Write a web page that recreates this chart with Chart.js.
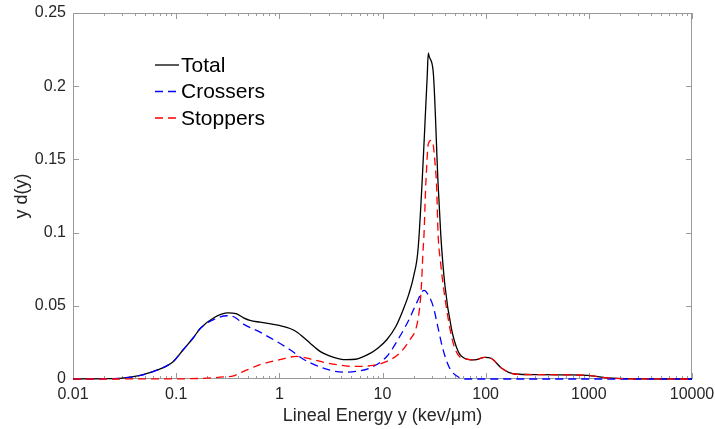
<!DOCTYPE html>
<html>
<head>
<meta charset="utf-8">
<script src="https://cdn.jsdelivr.net/npm/chart.js@4"></script>
<style>
html, body { margin: 0; padding: 0; background: #fff; }
</style>
</head>
<body>
<canvas id="chart" width="715" height="429"></canvas>
<script>
// Total
const totalX = [0.01, 0.02, 0.03, 0.045, 0.065, 0.094, 0.117, 0.146, 0.171, 0.23, 0.32, 0.38, 0.45, 0.52, 0.65, 0.8, 1.0, 1.27, 1.5, 1.71, 2.0, 2.5, 3.1, 3.8, 4.5, 5.5, 7.5, 9, 11, 13.5, 16, 18, 20, 22.2, 27.1, 27.8, 28.4, 31, 34.6, 36.7, 40.2, 46.7, 54, 63, 78, 98, 114, 142, 191, 320, 600, 970, 1500, 3000, 10000];
const totalY = [0, 0.0002, 0.0006, 0.0025, 0.006, 0.012, 0.020, 0.028, 0.0345, 0.0417, 0.0451, 0.0446, 0.0418, 0.0400, 0.0388, 0.0378, 0.0366, 0.0345, 0.0318, 0.0285, 0.0243, 0.0187, 0.0156, 0.0138, 0.0132, 0.0135, 0.0173, 0.0210, 0.0268, 0.0360, 0.0480, 0.0580, 0.0700, 0.0900, 0.2060, 0.2227, 0.2200, 0.2100, 0.1330, 0.0986, 0.0644, 0.0340, 0.0190, 0.0140, 0.0130, 0.0148, 0.0140, 0.0075, 0.0034, 0.0030, 0.0028, 0.0025, 0.0007, 0.0001, 0];

// Crossers
const crossersX = [0.01, 0.02, 0.03, 0.045, 0.065, 0.094, 0.117, 0.146, 0.171, 0.23, 0.31, 0.37, 0.45, 0.65, 1.27, 1.71, 2.3, 3.1, 4.2, 5.5, 7.55, 11, 14.7, 18.5, 21.4, 25.3, 28, 31, 34.6, 38, 43, 47, 55, 62, 10000];
const crossersY = [0, 0.0002, 0.0006, 0.0025, 0.006, 0.012, 0.020, 0.028, 0.0345, 0.0405, 0.0432, 0.0422, 0.0375, 0.0320, 0.0200, 0.0135, 0.0092, 0.0060, 0.0047, 0.0052, 0.0075, 0.0154, 0.0290, 0.0420, 0.0520, 0.0605, 0.0570, 0.0496, 0.0348, 0.0220, 0.0100, 0.0050, 0.0012, 0, 0];

// Stoppers
const stoppersX = [0.01, 0.1, 0.2, 0.29, 0.36, 0.45, 0.65, 0.94, 1.47, 2.13, 3.1, 3.9, 5.2, 8.1, 11, 14.7, 18.4, 21.4, 23, 23.9, 24.6, 25.3, 26.1, 26.8, 27.7, 29.5, 31, 32.5, 33.4, 34.6, 36.5, 38.7, 44.9, 50.2, 58, 63, 78, 98, 114, 142, 191, 320, 600, 970, 1500, 3000, 10000];
const stoppersY = [0, 0.0001, 0.0006, 0.0014, 0.0022, 0.0052, 0.0098, 0.0127, 0.0154, 0.0132, 0.0105, 0.0095, 0.0086, 0.0093, 0.0120, 0.0178, 0.0268, 0.0360, 0.0500, 0.0650, 0.0850, 0.1000, 0.1280, 0.1450, 0.1600, 0.1630, 0.1600, 0.1450, 0.1330, 0.0986, 0.0800, 0.0644, 0.0350, 0.0210, 0.0143, 0.0138, 0.0130, 0.0148, 0.0140, 0.0075, 0.0034, 0.0030, 0.0028, 0.0025, 0.0007, 0.0001, 0];

const seriesNames = ['Total', 'Crossers', 'Stoppers'];
const xTickValues = [0.01, 0.1, 1, 10, 100, 1000, 10000];
const xTickLabels = ['0.01', '0.1', '1', '10', '100', '1000', '10000'];
const yTickValues = [0, 0.05, 0.1, 0.15, 0.2, 0.25];
const yTickLabels = ['0', '0.05', '0.1', '0.15', '0.2', '0.25'];

const FONT = '"Liberation Sans", Arial, Helvetica, sans-serif';
const axisColor = '#9a9a9a';
const textColor = '#262626';
const colors = ['#000000', '#0000ff', '#ff0000'];
const dashes = [[], [8, 5], [8, 5]];

const toPoints = (xs, ys) => xs.map((x, i) => ({ x: x, y: ys[i] }));

// box round the plot with inward ticks, like matlab
const boxPlugin = {
    id: 'box',
    beforeDatasetsDraw(chart) {
        const { ctx, chartArea: a, scales: { x, y } } = chart;
        ctx.save();
        ctx.strokeStyle = axisColor;
        ctx.lineWidth = 1;
        ctx.strokeRect(a.left + 0.5, a.top + 0.5, a.right - a.left - 1, a.bottom - a.top - 1);
        ctx.beginPath();
        for (let d = -2; d <= 4; d++) {
            for (let m = 1; m <= 9; m++) {
                const v = m * Math.pow(10, d);
                if (v > 10000) break;
                const px = Math.round(x.getPixelForValue(v)) + 0.5;
                const len = m === 1 ? 6 : 3;
                ctx.moveTo(px, a.bottom);
                ctx.lineTo(px, a.bottom - len);
                ctx.moveTo(px, a.top);
                ctx.lineTo(px, a.top + len);
            }
        }
        yTickValues.forEach(v => {
            const py = Math.round(y.getPixelForValue(v)) + 0.5;
            ctx.moveTo(a.left, py);
            ctx.lineTo(a.left + 6, py);
            ctx.moveTo(a.right, py);
            ctx.lineTo(a.right - 6, py);
        });
        ctx.stroke();
        ctx.restore();
    }
};

const legendPlugin = {
    id: 'mlegend',
    afterDatasetsDraw(chart) {
        const { ctx } = chart;
        ctx.save();
        ctx.font = '21px ' + FONT;
        ctx.textBaseline = 'middle';
        seriesNames.forEach((name, i) => {
            const yy = 65 + i * 26.5;
            ctx.strokeStyle = colors[i];
            ctx.lineWidth = 1.3;
            ctx.setLineDash(dashes[i]);
            ctx.beginPath();
            ctx.moveTo(155, yy);
            ctx.lineTo(179, yy);
            ctx.stroke();
            ctx.setLineDash([]);
            ctx.fillStyle = '#000';
            ctx.fillText(name, 181, yy + 1);
        });
        ctx.restore();
    }
};

new Chart(document.getElementById('chart'), {
    type: 'line',
    data: {
        datasets: [
            { label: seriesNames[0], data: toPoints(totalX, totalY), borderColor: colors[0], borderDash: dashes[0], order: 2 },
            { label: seriesNames[1], data: toPoints(crossersX, crossersY), borderColor: colors[1], borderDash: dashes[1], order: 1 },
            { label: seriesNames[2], data: toPoints(stoppersX, stoppersY), borderColor: colors[2], borderDash: dashes[2], order: 0 }
        ]
    },
    options: {
        responsive: false,
        animation: false,
        devicePixelRatio: 1,
        layout: { padding: { top: 13, right: 23, bottom: 0, left: 0 } },
        elements: {
            point: { radius: 0 },
            line: { borderWidth: 1.3, cubicInterpolationMode: 'monotone', fill: false }
        },
        datasets: { line: { clip: false } },
        plugins: { legend: { display: false }, tooltip: { enabled: false } },
        scales: {
            x: {
                type: 'logarithmic',
                min: 0.01,
                max: 10000,
                afterBuildTicks: (scale) => { scale.ticks = xTickValues.map(v => ({ value: v })); },
                afterFit: (scale) => {
                    scale.height = 50;
                    scale.paddingLeft = 0;
                    scale.paddingRight = 0;
                },
                grid: { display: false, drawTicks: false },
                border: { display: false },
                ticks: {
                    autoSkip: false,
                    maxRotation: 0,
                    padding: 6,
                    color: textColor,
                    font: { family: FONT, size: 16 },
                    callback: (value) => { const i = xTickValues.indexOf(value); return i >= 0 ? xTickLabels[i] : ''; }
                },
                title: {
                    display: true,
                    text: 'Lineal Energy y (kev/\u03bcm)',
                    color: textColor,
                    font: { family: FONT, size: 18 },
                    padding: { top: 0, bottom: 2 }
                }
            },
            y: {
                min: 0,
                max: 0.25,
                afterBuildTicks: (scale) => { scale.ticks = yTickValues.map(v => ({ value: v })); },
                afterFit: (scale) => {
                    scale.width = 73;
                    scale.paddingTop = 0;
                    scale.paddingBottom = 0;
                },
                grid: { display: false, drawTicks: false },
                border: { display: false },
                ticks: {
                    padding: 7,
                    color: textColor,
                    font: { family: FONT, size: 16 },
                    callback: (value) => { const i = yTickValues.indexOf(value); return i >= 0 ? yTickLabels[i] : ''; }
                },
                title: {
                    display: true,
                    text: 'y d(y)',
                    color: textColor,
                    font: { family: FONT, size: 18 },
                    padding: { top: 11, bottom: 0 }
                }
            }
        }
    },
    plugins: [boxPlugin, legendPlugin]
});
</script>
</body>
</html>
